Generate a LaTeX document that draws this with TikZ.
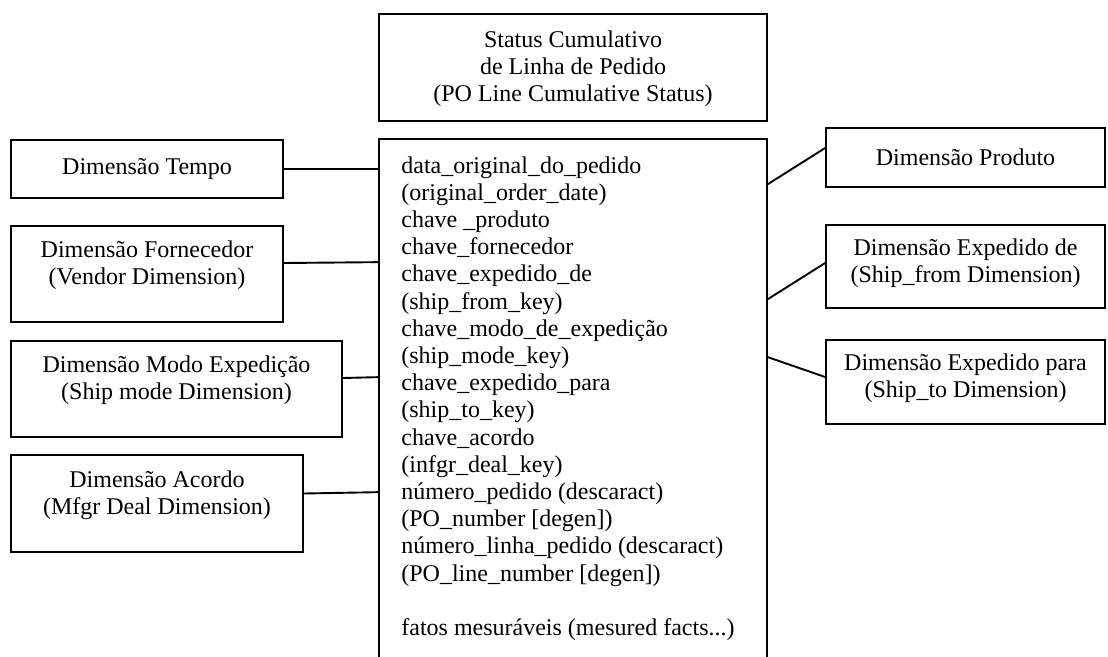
\documentclass[tikz,border=0pt]{standalone}
\usepackage{fontspec}
\setmainfont{Liberation Serif}
\begin{document}
\begin{tikzpicture}[x=1pt,y=-1pt,
  box/.style={draw=black, line width=1.7pt, inner sep=0pt},
  lbl/.style={font=\fontsize{24}{27}\selectfont, align=center, inner sep=0pt},
  link/.style={draw=black, line width=1.9pt}]
\useasboundingbox (0,0) rectangle (1108,656);
\clip (0,0) rectangle (1108,656);
\fill[white] (0,0) rectangle (1108,656);

% fact table: header and attribute list
\node[box, minimum width=388pt, minimum height=107pt] (title) at (573,67.5) {};
\node[box, minimum width=388pt, minimum height=541pt] (main) at (573,409.5) {};

% dimensions on the left
\node[box, minimum width=272pt, minimum height=58pt] (te) at (147,169) {};
\node[box, minimum width=272pt, minimum height=96pt] (fo) at (147,274) {};
\node[box, minimum width=331pt, minimum height=96pt] (mo) at (176.5,389) {};
\node[box, minimum width=292pt, minimum height=97pt] (ac) at (157,503.5) {};

% dimensions on the right
\node[box, minimum width=279pt, minimum height=59pt] (pr) at (965.5,157.5) {};
\node[box, minimum width=279pt, minimum height=83pt] (ed) at (965.5,266.5) {};
\node[box, minimum width=279pt, minimum height=84pt] (ep) at (965.5,382) {};

% texts
\node[lbl] (title-t) at ([yshift=-1pt]title.center) {Status Cumulativo\\de Linha de Pedido\\(PO Line Cumulative Status)};
\node[lbl, align=left, anchor=north west, font=\fontsize{24}{27.2}\selectfont] (facts)
  at ([xshift=23pt,yshift=-18pt]main.north west) {%
data\_original\_do\_pedido\\
(original\_order\_date)\\
chave \_produto\\
chave\_fornecedor\\
chave\_expedido\_de\\
(ship\_from\_key)\\
chave\_modo\_de\_expedição\\
(ship\_mode\_key)\\
chave\_expedido\_para\\
(ship\_to\_key)\\
chave\_acordo\\
(infgr\_deal\_key)\\
número\_pedido (descaract)\\
(PO\_number [degen])\\
número\_linha\_pedido (descaract)\\
(PO\_line\_number [degen])\\[27.2pt]
fatos mesuráveis (mesured facts...)};

\node[lbl] (te-t) at (te) {Dimensão Tempo};
\node[lbl] (fo-t) at ([yshift=8.5pt]fo.center) {Dimensão Fornecedor\\(Vendor Dimension)};
\node[lbl] (mo-t) at ([yshift=8.5pt]mo.center) {Dimensão Modo Expedição\\(Ship mode Dimension)};
\node[lbl] (ac-t) at ([yshift=8pt]ac.center) {Dimensão Acordo\\(Mfgr Deal Dimension)};
\node[lbl] (pr-t) at (pr) {Dimensão Produto};
\node[lbl] (ed-t) at ([yshift=3pt]ed.center) {Dimensão Expedido de\\(Ship\_from Dimension)};
\node[lbl] (ep-t) at ([yshift=3.5pt]ep.center) {Dimensão Expedido para\\(Ship\_to Dimension)};

% connectors
\draw[link] (te.east) -- (te.east -| main.west);
\draw[link] ([yshift=11pt]fo.east) -- ([yshift=-124pt]main.north west);
\draw[link] ([yshift=11pt]mo.east) -- ([yshift=-239pt]main.north west);
\draw[link] ([yshift=10pt]ac.east) -- ([yshift=-354pt]main.north west);
\draw[link] ([yshift=-46pt]main.north east) -- ([yshift=9.5pt]pr.west);
\draw[link] ([yshift=-161pt]main.north east) -- ([yshift=3.5pt]ed.west);
\draw[link] ([yshift=-219pt]main.north east) -- ([yshift=5pt]ep.west);
\end{tikzpicture}
\end{document}
